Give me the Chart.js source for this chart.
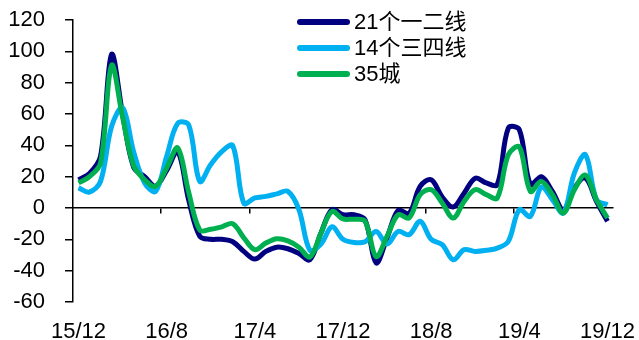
<!DOCTYPE html>
<html>
<head>
<meta charset="utf-8">
<script src="https://cdn.jsdelivr.net/npm/chart.js@4/dist/chart.umd.min.js"></script>
<style>
  html, body { margin: 0; padding: 0; background: #fff; }
  #wrap { width: 639px; height: 340px; }
</style>
</head>
<body>
<div id="wrap"><canvas id="c" width="639" height="340"></canvas></div>
<script>
// Monthly categories, 2015-12 .. 2019-12
const months = [
  '15/12',
  '16/1','16/2','16/3','16/4','16/5','16/6','16/7','16/8','16/9','16/10','16/11','16/12',
  '17/1','17/2','17/3','17/4','17/5','17/6','17/7','17/8','17/9','17/10','17/11','17/12',
  '18/1','18/2','18/3','18/4','18/5','18/6','18/7','18/8','18/9','18/10','18/11','18/12',
  '19/1','19/2','19/3','19/4','19/5','19/6','19/7','19/8','19/9','19/10','19/11','19/12'
];
// Only every 8th month carries a label on the axis
const labelledMonths = ['15/12', '16/8', '17/4', '17/12', '18/8', '19/4', '19/12'];

const seriesNames = ['21个一二线', '14个三四线', '35城'];

const tier12 = [18, 22, 33, 98, 60, 26, 20, 14, 24, 36, 5, -18, -20, -20, -21.5, -27.7, -32.6, -27.7, -25, -26, -29, -33,
  -16, -1, -4.3, -4.3, -7.5, -35, -19, -1.5, -3.4, 13.8, 18, 7, 0.6, 9.6, 19, 16, 15, 51, 50, 15, 20, 10.6, -1, 12.8, 19, 4.3, -8.5];

const tier34 = [12.8, 10.2, 17, 52, 64, 36, 16, 10.6, 33, 54, 53, 17, 27.7, 36, 39.8, 3, 6.4, 7.4, 9, 10.6, -1, -27, -23,
  -12, -20, -22, -21.5, -15, -23, -15, -17, -8.5, -20, -23.4, -33, -26.6, -27.7, -27, -25.6, -21.3, -1, -5.4, 13.4, 5.3, -3.2, 22.4, 34, 5.3, 2];

const city35 = [16, 20, 28.7, 91, 58, 27, 18, 13.8, 25.6, 38.3, 10, -14, -13.6, -12, -10, -19, -26.6, -22.4, -19.6, -21, -25, -31.3,
  -16, -2.2, -7, -7.2, -8.5, -31, -18, -4.3, -6.3, 8.5, 11.7, 3.2, -6.4, 4.3, 11.7, 8.5, 6.4, 34, 39, 10.6, 17, 8.5, -3.2, 11.7, 21, 5.3, -6.4];

const yMin = -60, yMax = 120, yStep = 20;

const colors = ['#000080', '#00B0F0', '#00B050'];
const FONT = '"Liberation Sans", Arial, "Noto Sans CJK SC", sans-serif';

Chart.defaults.font.family = FONT;
Chart.defaults.font.size = 22;
Chart.defaults.color = '#000';

// Vertical legend placed inside the plot, near the top
const insetLegend = {
  id: 'insetLegend',
  afterDraw(chart) {
    const ctx = chart.ctx;
    ctx.save();
    chart.data.datasets.forEach((ds, k) => {
      const y = 22 + k * 26;
      ctx.strokeStyle = ds.borderColor;
      ctx.lineWidth = 6;
      ctx.lineCap = 'round';
      ctx.beginPath();
      ctx.moveTo(300, y);
      ctx.lineTo(347, y);
      ctx.stroke();
      ctx.fillStyle = '#000';
      ctx.font = '22px ' + FONT;
      ctx.textBaseline = 'middle';
      ctx.textAlign = 'left';
      ctx.fillText(ds.label, 354, y + 1);
    });
    ctx.restore();
  }
};

const mkSet = (label, data, color, order) => ({
  label, data,
  borderColor: color,
  backgroundColor: color,
  borderWidth: 5,
  pointRadius: 0,
  tension: 0.35,
  fill: false,
  order
});

new Chart(document.getElementById('c'), {
  type: 'line',
  data: {
    labels: months,
    datasets: [
      mkSet(seriesNames[0], tier12, colors[0], 3),
      mkSet(seriesNames[1], tier34, colors[1], 2),
      mkSet(seriesNames[2], city35, colors[2], 1)
    ]
  },
  options: {
    responsive: false,
    animation: false,
    devicePixelRatio: 1,
    layout: { padding: { left: 0, right: 26, top: 20, bottom: 0 } },
    plugins: { legend: { display: false }, tooltip: { enabled: false } },
    scales: {
      x: {
        type: 'category',
        position: 'bottom',
        offset: true,
        grid: { display: false, drawTicks: false },
        border: { display: false },
        ticks: {
          autoSkip: false,
          maxRotation: 0,
          padding: 17,
          callback: (v, i) => labelledMonths.includes(months[i]) ? months[i] : ''
        },
        afterFit: (s) => { s.height = 38; s.paddingLeft = 0; s.paddingRight = 0; }
      },
      // axis line crossing at zero, with tick marks between categories
      x0: {
        type: 'category',
        axis: 'x',
        position: { y: 0 },
        offset: true,
        grid: {
          offset: true,
          drawOnChartArea: false,
          drawTicks: true,
          tickLength: 5,
          lineWidth: 1.5,
          color: (c) => (c.index > 0 && c.index % 8 === 0) ? '#000' : 'rgba(0,0,0,0)'
        },
        border: { display: true, color: '#000', width: 1.5 },
        ticks: { display: false, autoSkip: false }
      },
      y: {
        min: yMin,
        max: yMax,
        ticks: { stepSize: yStep, padding: 20 },
        grid: { drawOnChartArea: false, drawTicks: true, tickLength: 8, color: '#000', lineWidth: 1.5 },
        border: { display: true, color: '#000', width: 1.5 },
        afterFit: (s) => { s.width = 73; s.paddingTop = 0; s.paddingBottom = 0; }
      }
    }
  },
  plugins: [insetLegend]
});
</script>
</body>
</html>
